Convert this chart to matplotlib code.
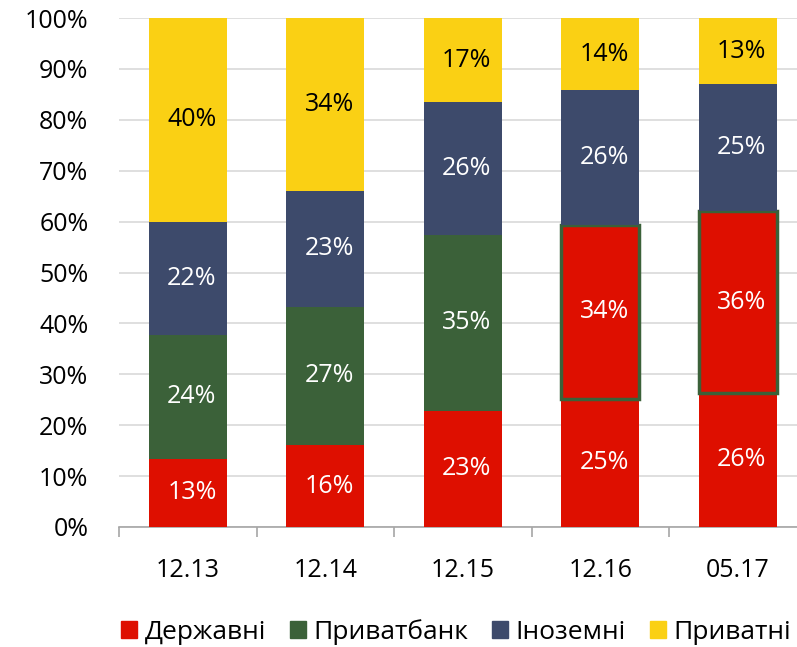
import numpy as np
import matplotlib.pyplot as plt
from matplotlib.patches import Patch

plt.rcParams['font.family'] = ['Open Sans', 'DejaVu Sans']

periods = ['12.13', '12.14', '12.15', '12.16', '05.17']
state = [13.4, 16.1, 22.8, 25.2, 26.4]
privatbank = [24.4, 27.2, 34.6, 34.2, 35.6]
foreign = [22.2, 22.8, 26.0, 26.4, 25.0]
private = [40.0, 33.9, 16.6, 14.2, 13.0]
names = ['Державні', 'Приватбанк', 'Іноземні', 'Приватні']

red = '#DE0F00'
green = '#3B6139'
navy = '#3D4A6B'
yellow = '#FAD014'

fig = plt.figure(figsize=(7.97, 6.47), dpi=100)
ax = fig.add_axes([119 / 797, 1 - 527 / 647, 687.5 / 797, 509 / 647])

x = np.arange(len(periods))
w = 0.57
bottom = np.zeros(len(periods))

# Privatbank was nationalised in 12.16, so it is red with a green frame from then on
pb_face = [green, green, green, red, red]
pb_lw = [0, 0, 0, 2.5, 2.5]

series = [
    (state, red, red, 0, 'white'),
    (privatbank, pb_face, green, pb_lw, 'white'),
    (foreign, navy, navy, 0, 'white'),
    (private, yellow, yellow, 0, 'black'),
]
for (vals, fc, ec, lw, tc), name in zip(series, names):
    vals = np.array(vals)
    ax.bar(x, vals, w, bottom=bottom, color=fc, edgecolor=ec,
           linewidth=lw, label=name, zorder=3)
    for xi, b, v in zip(x, bottom, vals):
        ax.text(xi + 0.03, b + v / 2, f'{round(v):.0f}%', ha='center', va='center',
                color=tc, fontsize=18, zorder=4)
    bottom += vals

ax.set_xlim(-0.5, len(periods) - 0.5)
ax.set_ylim(0, 100)
ax.set_yticks(range(0, 101, 10))
ax.set_yticklabels([f'{t}%' for t in range(0, 101, 10)], fontsize=18)
ax.yaxis.grid(True, color='#D9D9D9', linewidth=1.2, zorder=0)
ax.tick_params(axis='y', length=0, pad=22)
ax.set_xticks(x)
ax.set_xticklabels(periods, fontsize=18)
ax.tick_params(axis='x', length=0, pad=22)
ax.set_xticks(np.arange(-0.5, len(periods)), minor=True)
ax.tick_params(axis='x', which='minor', length=7, color='#A6A6A6', width=1.2)
for s in ['top', 'right', 'left']:
    ax.spines[s].set_visible(False)
ax.spines['bottom'].set_color('#A6A6A6')
ax.spines['bottom'].set_linewidth(1.2)

handles = [Patch(color=c) for c in [red, green, navy, yellow]]
fig.legend(handles, names, loc='center', bbox_to_anchor=(456 / 797, 1 - 632 / 647),
           ncol=4, frameon=False, fontsize=19, handlelength=0.6, handleheight=0.6,
           handletextpad=0.3, columnspacing=0.9)

fig.savefig('out.png', dpi=100)
